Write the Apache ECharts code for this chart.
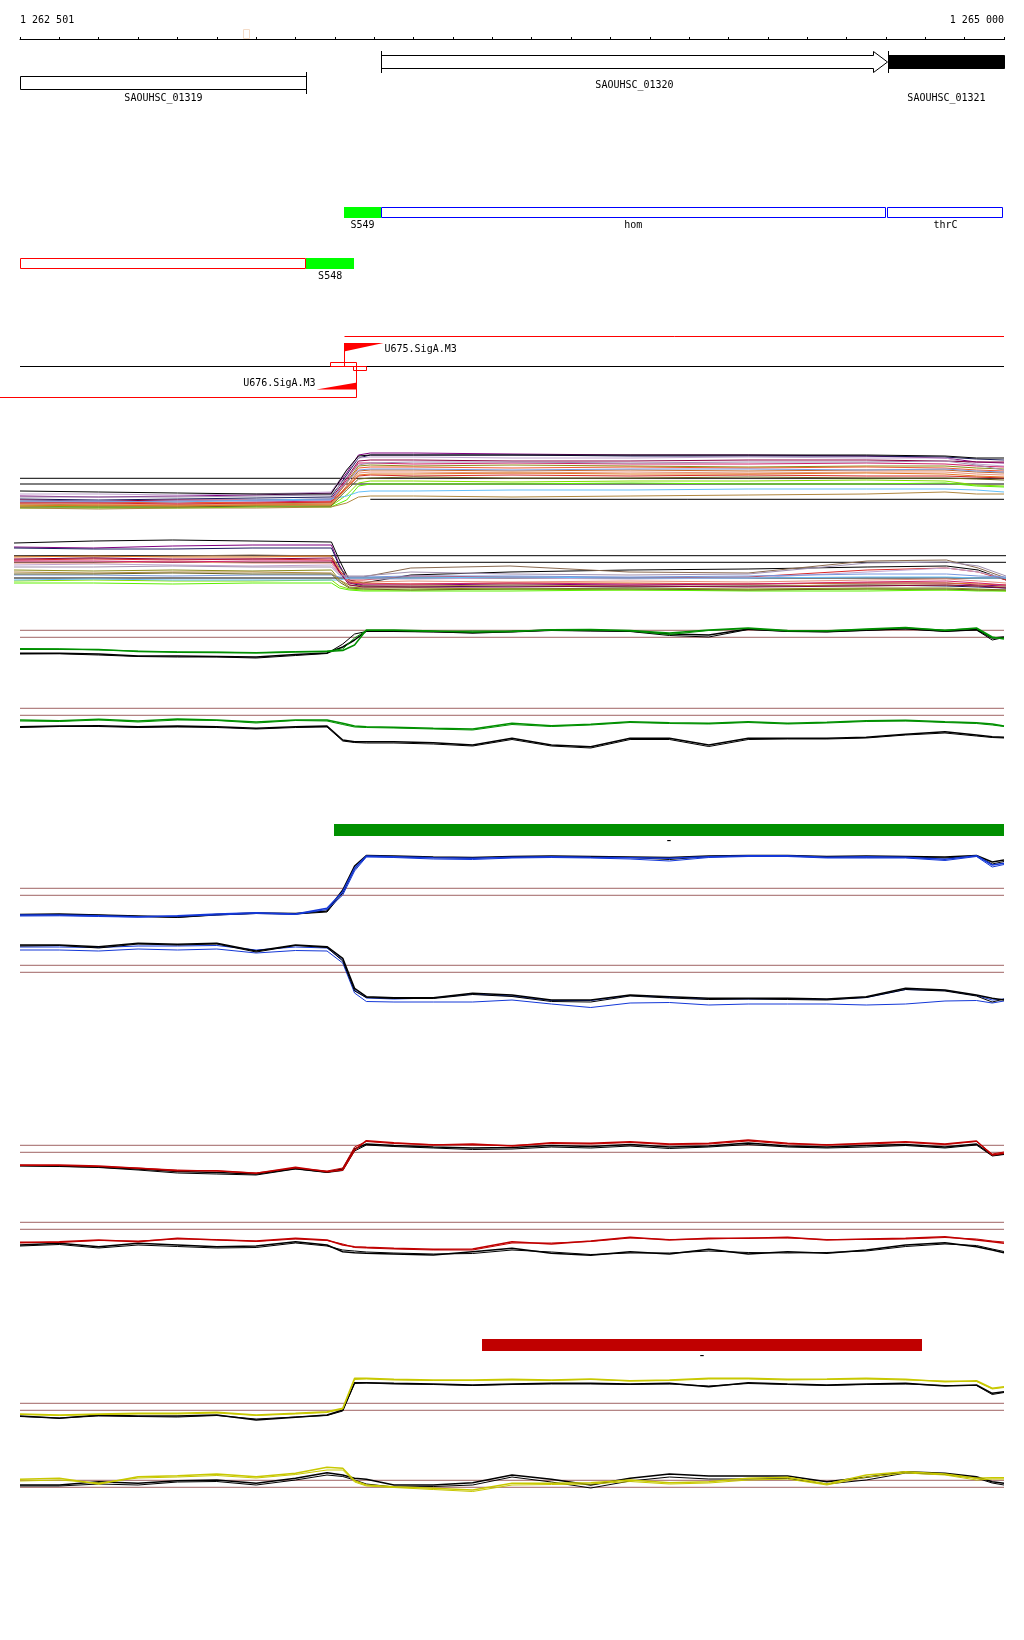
<!DOCTYPE html>
<html><head><meta charset="utf-8">
<script src="https://cdn.jsdelivr.net/npm/echarts@6/dist/echarts.min.js"></script>
<style>html,body{margin:0;padding:0;background:#fff}#c{width:1024px;height:1640px}</style>
</head><body><div id="c"></div>
<script>
// ---------------- DATA ----------------
const X_MIN = 1262500, X_MAX = 1265000;
const rulerLabels = ['1 262 501', '1 265 000'];
const rulerMarker = [1263067, 1263082];

const geneNames  = ['SAOUHSC_01319', 'SAOUHSC_01320', 'SAOUHSC_01321'];
const geneStart  = [1262501, 1263417, 1264705];
const geneEnd    = [1263227, 1264703, 1265000];
const geneStrand = ['-', '+', '+'];

const featNames  = ['S549', 'hom', 'thrC', 'S548', ''];
const featStart  = [1263323, 1263417, 1264704, 1263227, 1262501];
const featEnd    = [1263417, 1264699, 1264999, 1263349, 1263227];
const featStrand = ['+', '+', '+', '-', '-'];
const featKind   = ['S', 'G', 'G', 'S', 'G'];

const tssNames  = ['U675.SigA.M3', 'U676.SigA.M3'];
const tssPos    = [1263323, 1263353];
const tssStrand = ['+', '-'];
const tssBoxes  = [[1263288, 1263354], [1263347, 1263381]];

const regionStart = [1263298, 1263673];
const regionEnd   = [1265000, 1264792];
const regionLabel = ['-', '-'];

const posA = [1262500,1262700,1262900,1263100,1263290,1263330,1263360,1263390,1263500,1263750,1264050,1264350,1264650,1264850,1264930,1265000];
const posB = [1262500,1262700,1262900,1263100,1263300,1263320,1263345,1263380,1263500,1263750,1264050,1264350,1264650,1264850,1264930,1265000];
const pos = [1262500,1262600,1262700,1262800,1262900,1263000,1263100,1263200,1263280,1263320,1263350,1263380,1263450,1263550,1263650,1263750,1263850,1263950,1264050,1264150,1264250,1264350,1264450,1264550,1264650,1264750,1264850,1264930,1264970,1265000];

const trackA = {
  purple:     [1.4,1.3,1.4,1.5,1.7,3.7,5.5,5.7,5.7,5.6,5.5,5.5,5.4,5.2,4.8,4.7],
  navy:       [1.1,1.0,1.1,1.2,1.3,3.5,5.2,5.5,5.5,5.5,5.4,5.4,5.4,5.3,5.1,5.0],
  lavender:   [1.6,1.6,1.5,1.6,1.8,4.0,5.2,5.3,5.3,5.2,5.2,5.3,5.2,5.2,4.6,4.4],
  maroon:     [1.0,0.9,1.0,1.0,1.1,3.2,4.9,5.0,5.0,4.9,4.9,5.0,5.0,4.9,4.8,4.8],
  magenta:    [0.8,0.8,0.7,0.8,0.9,3.0,4.7,4.7,4.6,4.7,4.6,4.6,4.7,4.6,4.4,4.3],
  olive:      [0.6,0.5,0.5,0.6,0.7,2.8,4.4,4.5,4.4,4.5,4.4,4.3,4.4,4.4,4.2,4.1],
  orangered:  [0.8,0.7,0.8,0.7,0.8,2.7,4.2,4.3,4.3,4.2,4.3,4.2,4.3,4.2,4.0,3.9],
  rust:       [0.5,0.4,0.4,0.5,0.6,2.4,3.9,4.0,4.0,3.9,4.0,3.9,4.0,4.0,3.8,3.7],
  salmon:     [0.6,0.6,0.5,0.6,0.6,2.3,3.7,3.8,3.8,3.7,3.8,3.7,3.8,3.8,3.6,3.5],
  graypurple: [1.3,1.3,1.3,1.4,1.5,3.3,4.5,4.7,4.8,4.8,4.7,4.8,4.8,4.9,4.5,4.0],
  lightgreen: [0.4,0.3,0.3,0.4,0.4,1.5,2.7,2.9,2.9,2.8,2.9,2.9,3.0,2.9,2.5,2.4],
  lime:       [0.2,0.2,0.2,0.3,0.3,1.0,2.4,2.6,2.6,2.6,2.7,2.6,2.6,2.7,2.4,2.3],
  sky:        [0.9,0.9,0.8,1.0,1.1,1.4,1.8,1.9,1.9,2.0,2.0,2.1,2.1,2.1,2.0,1.8],
  tan:        [0.2,0.1,0.2,0.2,0.3,0.7,1.3,1.4,1.4,1.3,1.4,1.5,1.6,1.8,1.6,1.6],
  cornflower: [0.8,0.8,0.9,0.9,1.0,2.8,4.0,4.1,4.1,4.0,4.1,4.1,4.0,4.1,3.9,3.8],
  red:        [0.7,0.7,0.6,0.7,0.8,2.2,3.4,3.5,3.4,3.5,3.4,3.5,3.4,3.4,3.3,3.2],
  darkolive:  [0.3,0.3,0.3,0.4,0.4,2.0,3.1,3.2,3.3,3.2,3.2,3.3,3.2,3.2,3.1,3.0],
  orange:     [0.4,0.5,0.4,0.5,0.5,2.2,3.5,3.6,3.6,3.7,3.6,3.6,3.7,3.6,3.4,3.3],
  black:      [1.9,1.8,1.7,1.6,1.6,4.0,5.4,5.5,5.5,5.5,5.5,5.5,5.5,5.4,5.2,5.2]
};
const trackB = {
  black:      [5.2,5.4,5.5,5.4,5.3,3.5,1.5,1.2,2.0,2.3,2.5,2.6,2.8,2.9,2.5,1.5],
  purple:     [4.8,4.7,4.9,5.0,5.0,3.0,1.3,1.0,1.0,1.1,1.0,1.1,1.2,1.2,1.0,0.9],
  navy:       [4.7,4.6,4.6,4.7,4.7,2.9,1.2,0.9,0.8,0.9,0.8,0.9,1.0,0.9,0.8,0.7],
  brown:      [3.9,3.8,3.9,4.0,3.9,2.7,1.8,1.8,2.7,2.9,2.3,2.2,3.4,3.5,2.7,1.7],
  orange:     [3.8,3.9,3.8,3.8,3.9,2.5,1.3,1.2,1.1,1.2,1.2,1.1,1.2,1.2,1.1,1.0],
  red:        [3.5,3.6,3.5,3.6,3.5,2.4,1.5,1.5,1.9,1.8,1.7,1.8,2.5,2.7,2.3,1.5],
  olive:      [2.5,2.4,2.5,2.4,2.5,1.5,0.8,0.7,0.7,0.6,0.7,0.6,0.7,0.7,0.6,0.5],
  lavender:   [3.0,3.1,3.0,2.9,3.0,2.1,1.6,1.6,1.6,1.7,1.6,1.7,2.3,2.7,2.3,1.7],
  salmon:     [3.2,3.2,3.3,3.2,3.2,2.2,1.4,1.3,1.4,1.3,1.4,1.3,1.5,1.6,1.4,1.2],
  magenta:    [3.4,3.4,3.3,3.4,3.4,2.3,1.2,1.1,1.1,1.2,1.1,1.1,1.3,1.4,1.2,1.0],
  lightgreen: [1.4,1.5,1.4,1.4,1.5,0.9,0.6,0.5,0.5,0.6,0.5,0.5,0.6,0.5,0.5,0.4],
  lime:       [1.2,1.2,1.1,1.2,1.2,0.7,0.5,0.4,0.4,0.4,0.5,0.4,0.4,0.5,0.4,0.4],
  sky:        [1.5,1.6,1.5,1.5,1.5,1.5,1.7,1.7,1.7,1.8,1.7,1.7,1.8,1.8,1.7,1.7],
  cornflower: [2.0,2.0,1.9,2.0,2.0,1.8,1.8,1.8,1.9,1.9,1.8,1.9,2.1,2.1,1.9,1.8],
  tan:        [2.3,2.2,2.3,2.3,2.2,1.5,1.0,0.9,0.9,1.0,0.9,0.9,1.0,1.0,0.9,0.8],
  maroon:     [3.6,3.7,3.6,3.6,3.7,2.3,1.0,0.8,0.8,0.8,0.9,0.8,0.9,1.0,0.9,0.7],
  darkolive:  [2.1,2.1,2.2,2.1,2.1,1.3,0.7,0.6,0.5,0.6,0.6,0.5,0.6,0.6,0.5,0.5],
  graypurple: [2.8,2.8,2.9,2.8,2.8,2.0,1.9,1.9,2.3,2.1,2.0,2.1,3.2,3.3,2.9,1.9]
};
const levelsA = [3.17, 2.6];
const levelA_partial = [[1263390, 1.07], [1265000, 1.07]];
const levelsB = [3.93, 3.27, 1.7];

const C_green1 = [2.07,2.07,2.05,1.85,1.77,1.75,1.70,1.80,1.85,1.95,2.5,4.0,4.0,3.9,3.8,3.85,4.03,4.05,3.95,3.7,4.0,4.2,3.95,3.9,4.1,4.25,3.95,4.2,3.3,3.1];
const C_green2 = [2.15,2.12,2.0,1.9,1.82,1.8,1.75,1.85,1.9,2.1,3.2,3.95,3.95,3.85,3.9,3.9,3.98,4.0,3.9,3.55,3.95,4.15,3.9,3.95,4.05,4.2,4.0,4.15,3.2,3.2];
const C_black1 = [1.67,1.67,1.6,1.4,1.4,1.35,1.3,1.55,1.7,2.3,3.0,3.9,3.9,3.85,3.7,3.85,4.0,3.95,3.9,3.6,3.5,4.1,3.9,3.85,4.0,4.15,3.9,4.05,3.2,3.3];
const C_black2 = [1.6,1.62,1.5,1.35,1.3,1.3,1.2,1.45,1.65,2.6,3.6,3.85,3.85,3.8,3.75,3.8,3.95,3.9,3.85,3.45,3.3,4.05,3.85,3.8,3.95,4.1,3.85,4.0,3.0,3.25];
const D_green1 = [3.0,2.93,3.07,2.9,3.1,3.0,2.8,3.0,3.0,2.67,2.4,2.33,2.27,2.17,2.1,2.67,2.43,2.57,2.83,2.73,2.67,2.83,2.67,2.77,2.93,2.97,2.83,2.73,2.6,2.4];
const D_green2 = [2.9,2.85,3.0,2.8,3.0,2.95,2.7,2.95,2.9,2.55,2.3,2.25,2.2,2.1,2.0,2.55,2.35,2.5,2.75,2.65,2.6,2.75,2.6,2.7,2.85,2.9,2.75,2.65,2.5,2.35];
const D_black1 = [2.33,2.4,2.43,2.33,2.4,2.33,2.17,2.33,2.4,1.0,0.83,0.83,0.83,0.73,0.5,1.17,0.5,0.33,1.17,1.17,0.5,1.17,1.17,1.17,1.27,1.57,1.83,1.5,1.33,1.27];
const D_black2 = [2.25,2.35,2.35,2.25,2.3,2.25,2.1,2.25,2.3,0.9,0.75,0.7,0.7,0.6,0.4,1.05,0.4,0.2,1.05,1.05,0.35,1.05,1.1,1.1,1.2,1.5,1.7,1.4,1.25,1.2];
const E_blue1  = [1.0,1.0,0.93,0.83,0.93,1.1,1.23,1.1,1.67,3.33,5.67,6.9,6.83,6.73,6.67,6.77,6.83,6.77,6.73,6.67,6.83,6.93,6.93,6.77,6.83,6.77,6.57,6.93,6.0,6.17];
const E_blue2  = [0.9,0.92,0.85,0.78,0.88,1.0,1.15,1.05,1.55,3.0,5.4,6.8,6.75,6.6,6.55,6.7,6.75,6.7,6.6,6.4,6.75,6.85,6.85,6.7,6.7,6.7,6.45,6.85,5.8,6.05];
const E_black1 = [1.05,1.1,1.0,0.9,0.8,1.05,1.2,1.15,1.4,3.5,5.9,6.95,6.9,6.8,6.75,6.85,6.9,6.85,6.8,6.75,6.9,6.95,6.95,6.85,6.9,6.85,6.8,6.95,6.3,6.5];
const E_black2 = [1.0,1.05,0.98,0.85,0.75,1.0,1.15,1.1,1.3,3.2,5.6,6.85,6.85,6.75,6.7,6.8,6.85,6.8,6.75,6.55,6.85,6.9,6.9,6.8,6.8,6.8,6.7,6.9,6.1,6.35];
const F_black1 = [7.0,7.0,6.83,7.17,7.07,7.17,6.4,7.0,6.83,5.67,2.67,1.83,1.73,1.73,2.17,2.0,1.5,1.5,2.0,1.83,1.67,1.67,1.67,1.6,1.83,2.67,2.5,2.0,1.67,1.5];
const F_black2 = [6.9,6.95,6.7,7.1,7.0,7.1,6.3,6.95,6.75,5.4,2.4,1.75,1.65,1.65,2.05,1.85,1.35,1.3,1.9,1.7,1.55,1.6,1.55,1.5,1.75,2.55,2.4,1.9,1.3,1.6];
const F_blue1  = [6.8,6.8,6.75,6.9,6.9,6.95,6.5,6.8,6.7,5.5,2.5,1.7,1.6,1.7,2.1,1.9,1.45,1.45,1.95,1.75,1.6,1.6,1.6,1.55,1.75,2.55,2.45,1.95,1.5,1.6];
const F_blue2  = [6.5,6.5,6.4,6.6,6.5,6.6,6.2,6.45,6.4,5.2,2.2,1.35,1.3,1.3,1.3,1.5,1.1,0.75,1.2,1.25,1.0,1.1,1.1,1.1,1.0,1.1,1.4,1.45,1.2,1.4];
const G_red1   = [2.5,2.5,2.4,2.17,1.93,1.93,1.67,2.27,1.83,2.0,4.0,4.93,4.73,4.5,4.6,4.4,4.73,4.67,4.83,4.6,4.67,5.0,4.67,4.5,4.67,4.83,4.6,4.9,3.5,3.67];
const G_red2   = [2.45,2.45,2.35,2.2,2.0,1.9,1.7,2.2,1.9,2.2,4.3,4.85,4.65,4.55,4.5,4.45,4.65,4.6,4.75,4.55,4.6,4.9,4.6,4.55,4.6,4.75,4.55,4.85,3.6,3.8];
const G_black1 = [2.45,2.4,2.3,2.1,1.85,1.75,1.6,2.15,1.8,2.1,4.1,4.6,4.45,4.3,4.2,4.25,4.45,4.35,4.55,4.3,4.4,4.7,4.4,4.3,4.45,4.55,4.3,4.6,3.5,3.6];
const G_black2 = [2.4,2.35,2.25,2.0,1.7,1.6,1.5,2.1,1.75,1.95,3.9,4.5,4.35,4.2,4.05,4.1,4.3,4.2,4.4,4.15,4.3,4.55,4.3,4.2,4.3,4.45,4.2,4.5,3.4,3.55];
const H_red1   = [2.23,2.33,2.5,2.33,2.67,2.5,2.4,2.67,2.5,2.0,1.83,1.77,1.67,1.57,1.6,2.33,2.1,2.4,2.77,2.5,2.67,2.67,2.77,2.5,2.6,2.67,2.83,2.5,2.33,2.17];
const H_red2   = [2.3,2.25,2.45,2.4,2.6,2.55,2.35,2.6,2.45,2.1,1.75,1.7,1.6,1.5,1.5,2.2,2.2,2.35,2.7,2.55,2.6,2.7,2.7,2.55,2.55,2.6,2.75,2.6,2.4,2.3];
const H_black1 = [2.0,2.17,1.83,2.17,2.0,1.83,1.9,2.33,2.0,1.33,1.23,1.17,1.1,1.0,1.33,1.67,1.17,0.97,1.33,1.1,1.57,1.1,1.33,1.17,1.5,2.0,2.23,1.83,1.5,1.23];
const H_black2 = [1.9,2.05,1.7,2.0,1.85,1.7,1.75,2.2,1.9,1.5,1.4,1.3,1.2,1.1,1.15,1.5,1.3,1.05,1.2,1.2,1.4,1.25,1.2,1.25,1.4,1.85,2.1,1.95,1.6,1.35];
const I_yellow1= [1.6,1.5,1.6,1.67,1.67,1.77,1.5,1.67,1.83,2.17,5.17,5.17,5.07,5.0,5.0,5.07,5.0,5.1,4.93,5.0,5.17,5.17,5.07,5.1,5.17,5.07,4.83,4.93,4.17,4.33];
const I_yellow2= [1.55,1.45,1.55,1.6,1.6,1.7,1.45,1.6,1.75,2.1,5.05,5.1,5.0,4.95,4.95,5.0,4.95,5.05,4.9,4.95,5.1,5.1,5.0,5.05,5.1,5.0,4.9,4.85,4.1,4.25];
const I_black1 = [1.4,1.17,1.5,1.4,1.4,1.5,1.0,1.27,1.5,2.0,4.73,4.73,4.67,4.6,4.5,4.6,4.67,4.67,4.6,4.67,4.33,4.73,4.6,4.5,4.6,4.67,4.4,4.5,3.67,3.83];
const I_black2 = [1.35,1.2,1.4,1.35,1.3,1.45,1.1,1.3,1.45,1.9,4.65,4.7,4.6,4.55,4.45,4.55,4.6,4.6,4.55,4.6,4.4,4.65,4.55,4.45,4.55,4.6,4.45,4.45,3.55,3.75];
const J_yellow1= [2.07,2.17,1.6,2.33,2.43,2.6,2.33,2.67,3.27,3.17,1.93,1.5,1.33,1.17,1.0,1.67,1.67,1.73,2.0,1.73,1.83,2.17,2.27,1.6,2.5,2.83,2.6,2.17,2.23,2.23];
const J_yellow2= [1.9,2.0,1.7,2.2,2.3,2.45,2.2,2.55,3.0,3.0,1.8,1.4,1.25,1.05,0.85,1.5,1.55,1.6,1.85,1.6,1.7,2.0,2.1,1.5,2.3,2.7,2.5,2.0,2.1,2.1];
const J_black1 = [1.5,1.5,1.83,1.67,1.93,2.0,1.67,2.17,2.73,2.5,2.17,2.07,1.5,1.5,1.73,2.5,2.07,1.5,2.17,2.6,2.4,2.4,2.4,1.83,2.27,2.83,2.67,2.33,1.83,1.67];
const J_black2 = [1.4,1.4,1.6,1.5,1.8,1.85,1.5,2.0,2.5,2.35,2.0,1.6,1.3,1.35,1.5,2.3,1.8,1.2,1.9,2.3,2.1,2.1,2.15,1.6,2.0,2.7,2.55,2.2,1.7,1.5];

const levelsC = [3.97, 3.27], levelsD = [4.17, 3.47], levelsE = [3.67, 2.97], levelsF = [4.97, 4.27];
const levelsG = [4.47, 3.77], levelsH = [4.27, 3.57], levelsI = [2.67, 1.97], levelsJ = [1.97, 1.27];

// ---------------- STYLE / LAYOUT ----------------
const FONT = '10px "DejaVu Sans Mono", monospace';
const DASH_FONT = '14px "DejaVu Sans Mono", monospace';
const PAL = {
  purple:'#800080', navy:'#1a1a5a', lavender:'#c0a4d0', maroon:'#880040', magenta:'#d02068',
  olive:'#8a8a18', orangered:'#f05a30', rust:'#c06428', salmon:'#e8907a', graypurple:'#a090b0',
  lightgreen:'#84e000', lime:'#5cf000', sky:'#64c0f8', tan:'#b08840', cornflower:'#7898e0',
  red:'#d82828', darkolive:'#6a6420', orange:'#e07820', black:'#000000', brown:'#8a6a50'
};
const BROWN = '#a06464', GREEN = '#009000', BLUE = '#1438d8', RED = '#c00000', YELLOW = '#c8c800';
const GENE_STYLE = {'SAOUHSC_01321': {fill:'#000'}};
const LAY = {
  geneRowY: {'+':55, '-':76}, geneH: 13, geneLabelY: {'SAOUHSC_01319':98, 'SAOUHSC_01320':85, 'SAOUHSC_01321':98},
  featRowY: {'+':207, '-':258}, featH: 11, featLabelGap: 7,
  tssLineY: {'+':336, '-':397}, tssBaseY: 366, tssBoxY: [362, 366],
  regionY: [824, 1339], regionH: 12
};

// ---------------- BUILD ----------------
const grids = [], xAxes = [], yAxes = [], series = [];
function addGrid(g, ymax, inverse) {
  const i = grids.length;
  grids.push(g);
  xAxes.push({type:'value', gridIndex:i, min:X_MIN, max:X_MAX, show:false});
  yAxes.push({type:'value', gridIndex:i, min:0, max:ymax, show:false, inverse:!!inverse});
  return i;
}
const gR = addGrid({left:20, right:20, top:38, height:1}, 1);
xAxes[gR] = {type:'value', gridIndex:gR, min:X_MIN, max:X_MAX, interval:100, position:'top',
  axisLine:{show:true, lineStyle:{color:'#000', width:1}},
  axisTick:{show:true, length:2, lineStyle:{color:'#000', width:1}},
  splitLine:{show:false},
  axisLabel:{show:true, interval:0, margin:13, fontFamily:'DejaVu Sans Mono', fontSize:10, color:'#000',
    showMinLabel:true, showMaxLabel:true, alignMinLabel:'left', alignMaxLabel:'right', hideOverlap:false,
    formatter: v => v === X_MIN ? rulerLabels[0] : (v === X_MAX ? rulerLabels[1] : '')}};
const gN = addGrid({left:20, right:20, top:0, height:1640}, 1640, true);

function X(api, g) { return api.coord([g, 0])[0]; }
function crisp(v) { return Math.round(v) + 0.5; }

series.push({type:'custom', xAxisIndex:gN, yAxisIndex:gN, silent:true, clip:false,
  data:[[rulerMarker[0], rulerMarker[1]]], encode:{x:[0,1]},
  renderItem:(p, api) => {
    const x0 = X(api, rulerMarker[0]), x1 = X(api, rulerMarker[1]);
    return {type:'rect', shape:{x:crisp(x0), y:29.5, width:Math.round(x1-x0), height:9}, style:{fill:'transparent', stroke:'#f4dcc8', lineWidth:1}};
  }});

series.push({type:'custom', xAxisIndex:gN, yAxisIndex:gN, silent:true, clip:false,
  data: geneStart.map((s,i)=>[s, geneEnd[i]]), encode:{x:[0,1]},
  renderItem:(p, api) => {
    const i = p.dataIndex, st = GENE_STYLE[geneNames[i]] || {};
    const x0 = crisp(X(api, geneStart[i])), x1 = crisp(X(api, geneEnd[i]));
    const y = LAY.geneRowY[geneStrand[i]] + 0.5, h = LAY.geneH;
    const ch = [];
    const head = 14;
    if (st.fill) {
      ch.push({type:'rect', shape:{x:x0, y:y, width:x1-x0, height:h}, style:{fill:st.fill, stroke:st.fill, lineWidth:1}});
    } else if (geneStrand[i] === '+') {
      const xh = x1 - head;
      ch.push({type:'polygon', shape:{points:[[x0,y],[xh,y],[xh,y-4],[x1,y+h/2],[xh,y+h+4],[xh,y+h],[x0,y+h]]}, style:{fill:'#fff', stroke:'#000', lineWidth:1}});
    } else {
      ch.push({type:'rect', shape:{x:x0, y:y, width:x1-x0, height:h}, style:{fill:'#fff', stroke:'#000', lineWidth:1}});
    }
    const xt = geneStrand[i] === '+' ? x0 : x1;
    ch.push({type:'line', shape:{x1:xt, y1:y-4.5, x2:xt, y2:y+h+4.5}, style:{stroke:'#000', lineWidth:1}});
    ch.push({type:'text', style:{text:geneNames[i], x:(x0+x1)/2, y:LAY.geneLabelY[geneNames[i]], align:'center', verticalAlign:'middle', font:FONT, fill:'#000'}});
    return {type:'group', children:ch};
  }});

series.push({type:'custom', xAxisIndex:gN, yAxisIndex:gN, silent:true, clip:false,
  data: featStart.map((s,i)=>[s, featEnd[i]]), encode:{x:[0,1]},
  renderItem:(p, api) => {
    const i = p.dataIndex;
    const x0 = X(api, featStart[i]), x1 = X(api, featEnd[i]);
    const y = LAY.featRowY[featStrand[i]], h = LAY.featH;
    const ch = [];
    if (featKind[i] === 'S') {
      ch.push({type:'rect', shape:{x:Math.round(x0), y:y, width:Math.round(x1)-Math.round(x0), height:h}, style:{fill:'#00ff00'}});
    } else {
      const col = featStrand[i] === '+' ? '#0000ff' : '#ff0000';
      ch.push({type:'rect', shape:{x:crisp(x0), y:y+0.5, width:Math.round(x1-x0)-1, height:h-1}, style:{fill:'#fff', stroke:col, lineWidth:1}});
    }
    if (featNames[i]) ch.push({type:'text', style:{text:featNames[i], x:(x0+x1)/2, y:y+h+LAY.featLabelGap, align:'center', verticalAlign:'middle', font:FONT, fill:'#000'}});
    return {type:'group', children:ch};
  }});

series.push({type:'custom', xAxisIndex:gN, yAxisIndex:gN, silent:true, clip:false,
  data: [[X_MIN, X_MAX]], encode:{x:[0,1]},
  renderItem:(p, api) => {
    const ch = [];
    const xl = X(api, X_MIN), xr = X(api, X_MAX);
    ch.push({type:'line', shape:{x1:xl, y1:LAY.tssBaseY+0.5, x2:xr, y2:LAY.tssBaseY+0.5}, style:{stroke:'#000', lineWidth:1}});
    tssBoxes.forEach((b, k) => {
      const a = X(api, b[0]), c = X(api, b[1]);
      ch.push({type:'rect', shape:{x:crisp(a), y:LAY.tssBoxY[k]+0.5, width:Math.round(c-a), height:4}, style:{fill:'transparent', stroke:'#ff0000', lineWidth:1}});
    });
    tssPos.forEach((g, k) => {
      const x = crisp(X(api, g));
      if (tssStrand[k] === '+') {
        const ly = LAY.tssLineY['+'] + 0.5;
        ch.push({type:'line', shape:{x1:x, y1:ly, x2:xr, y2:ly}, style:{stroke:'#ff0000', lineWidth:1}});
        ch.push({type:'line', shape:{x1:x, y1:343, x2:x, y2:LAY.tssBaseY}, style:{stroke:'#ff0000', lineWidth:1}});
        ch.push({type:'polygon', shape:{points:[[x-0.5,343],[x+39,343],[x-0.5,351.5]]}, style:{fill:'#ff0000'}});
        ch.push({type:'text', style:{text:tssNames[k], x:x+40, y:349.5, align:'left', verticalAlign:'middle', font:FONT, fill:'#000'}});
      } else {
        const ly = LAY.tssLineY['-'] + 0.5;
        ch.push({type:'line', shape:{x1:0, y1:ly, x2:x, y2:ly}, style:{stroke:'#ff0000', lineWidth:1}});
        ch.push({type:'line', shape:{x1:x, y1:LAY.tssBaseY+1, x2:x, y2:ly}, style:{stroke:'#ff0000', lineWidth:1}});
        ch.push({type:'polygon', shape:{points:[[x+0.5,382.5],[x+0.5,389.5],[x-40,389.5]]}, style:{fill:'#ff0000'}});
        ch.push({type:'text', style:{text:tssNames[k], x:x-41, y:383, align:'right', verticalAlign:'middle', font:FONT, fill:'#000'}});
      }
    });
    return {type:'group', children:ch};
  }});

series.push({type:'custom', xAxisIndex:gN, yAxisIndex:gN, silent:true, clip:false,
  data: regionStart.map((s,i)=>[s, regionEnd[i]]), encode:{x:[0,1]},
  renderItem:(p, api) => {
    const i = p.dataIndex;
    const x0 = X(api, regionStart[i]), x1 = X(api, regionEnd[i]);
    const y = LAY.regionY[i], col = i === 0 ? GREEN : RED;
    return {type:'group', children:[
      {type:'rect', shape:{x:Math.round(x0), y:y, width:Math.round(x1-x0), height:LAY.regionH}, style:{fill:col}},
      {type:'text', style:{text:regionLabel[i], x:(x0+x1)/2, y:y+LAY.regionH+5.5, align:'center', verticalAlign:'middle', font:DASH_FONT, fill:'#000'}}
    ]};
  }});

function line(gi, p, vals, color, width, z) {
  series.push({type:'line', xAxisIndex:gi, yAxisIndex:gi, data:p.map((x,k)=>[x, vals[k]]),
    symbol:'none', showSymbol:false, silent:true, z:z||3, lineStyle:{color:color, width:width||1}, itemStyle:{color:color}});
}
function levels(gi, vals, color) {
  vals.forEach(v => line(gi, [X_MIN, X_MAX], [v, v], color, 1, 2));
}

const gA = addGrid({left:20, right:20, top:440, height:70}, 7);
levels(gA, levelsA, '#000');
line(gA, levelA_partial.map(d=>d[0]), levelA_partial.map(d=>d[1]), '#000', 1, 2);
Object.keys(trackA).forEach(k => line(gA, posA, trackA[k], PAL[k], 1));
const gB = addGrid({left:14, right:18, top:535, height:60}, 6);
levels(gB, levelsB, '#000');
Object.keys(trackB).forEach(k => line(gB, posB, trackB[k], PAL[k], 1));
const gC = addGrid({left:20, right:20, top:620, height:50}, 5);
levels(gC, levelsC, BROWN);
line(gC, pos, C_black2, '#000', 1); line(gC, pos, C_black1, '#000', 1.5);
line(gC, pos, C_green2, GREEN, 1); line(gC, pos, C_green1, GREEN, 1.5);
const gD = addGrid({left:20, right:20, top:700, height:50}, 5);
levels(gD, levelsD, BROWN);
line(gD, pos, D_black2, '#000', 1); line(gD, pos, D_black1, '#000', 1.5);
line(gD, pos, D_green2, GREEN, 1); line(gD, pos, D_green1, GREEN, 1.5);
const gE = addGrid({left:20, right:20, top:845, height:80}, 8);
levels(gE, levelsE, BROWN);
line(gE, pos, E_black2, '#000', 1); line(gE, pos, E_black1, '#000', 1.5);
line(gE, pos, E_blue2, BLUE, 1); line(gE, pos, E_blue1, BLUE, 1.5);
const gF = addGrid({left:20, right:20, top:935, height:80}, 8);
levels(gF, levelsF, BROWN);
line(gF, pos, F_blue2, BLUE, 1); line(gF, pos, F_blue1, BLUE, 1);
line(gF, pos, F_black2, '#000', 1); line(gF, pos, F_black1, '#000', 1.5);
const gG = addGrid({left:20, right:20, top:1130, height:60}, 6);
levels(gG, levelsG, BROWN);
line(gG, pos, G_black2, '#000', 1); line(gG, pos, G_black1, '#000', 1.5);
line(gG, pos, G_red2, RED, 1); line(gG, pos, G_red1, RED, 1.5);
const gH = addGrid({left:20, right:20, top:1215, height:50}, 5);
levels(gH, levelsH, BROWN);
line(gH, pos, H_black2, '#000', 1); line(gH, pos, H_black1, '#000', 1.5);
line(gH, pos, H_red2, RED, 1); line(gH, pos, H_red1, RED, 1.5);
const gI = addGrid({left:20, right:20, top:1365, height:65}, 6.5);
levels(gI, levelsI, BROWN);
line(gI, pos, I_black2, '#000', 1); line(gI, pos, I_black1, '#000', 1.5);
line(gI, pos, I_yellow2, YELLOW, 1); line(gI, pos, I_yellow1, YELLOW, 1.5);
const gJ = addGrid({left:20, right:20, top:1450, height:50}, 5);
levels(gJ, levelsJ, BROWN);
line(gJ, pos, J_black2, '#000', 1); line(gJ, pos, J_black1, '#000', 1.5);
line(gJ, pos, J_yellow2, YELLOW, 1); line(gJ, pos, J_yellow1, YELLOW, 1.5);

xAxes.push({type:'value', gridIndex:gR, min:X_MIN, max:X_MAX, interval:100, position:'top',
  axisLine:{show:false}, axisTick:{show:true, inside:true, length:2, lineStyle:{color:'#000'}},
  axisLabel:{show:false}, splitLine:{show:false}});

const chart = echarts.init(document.getElementById('c'), null, {renderer:'canvas'});
chart.setOption({animation:false, backgroundColor:'#fff', grid:grids, xAxis:xAxes, yAxis:yAxes, series:series});
</script></body></html>
